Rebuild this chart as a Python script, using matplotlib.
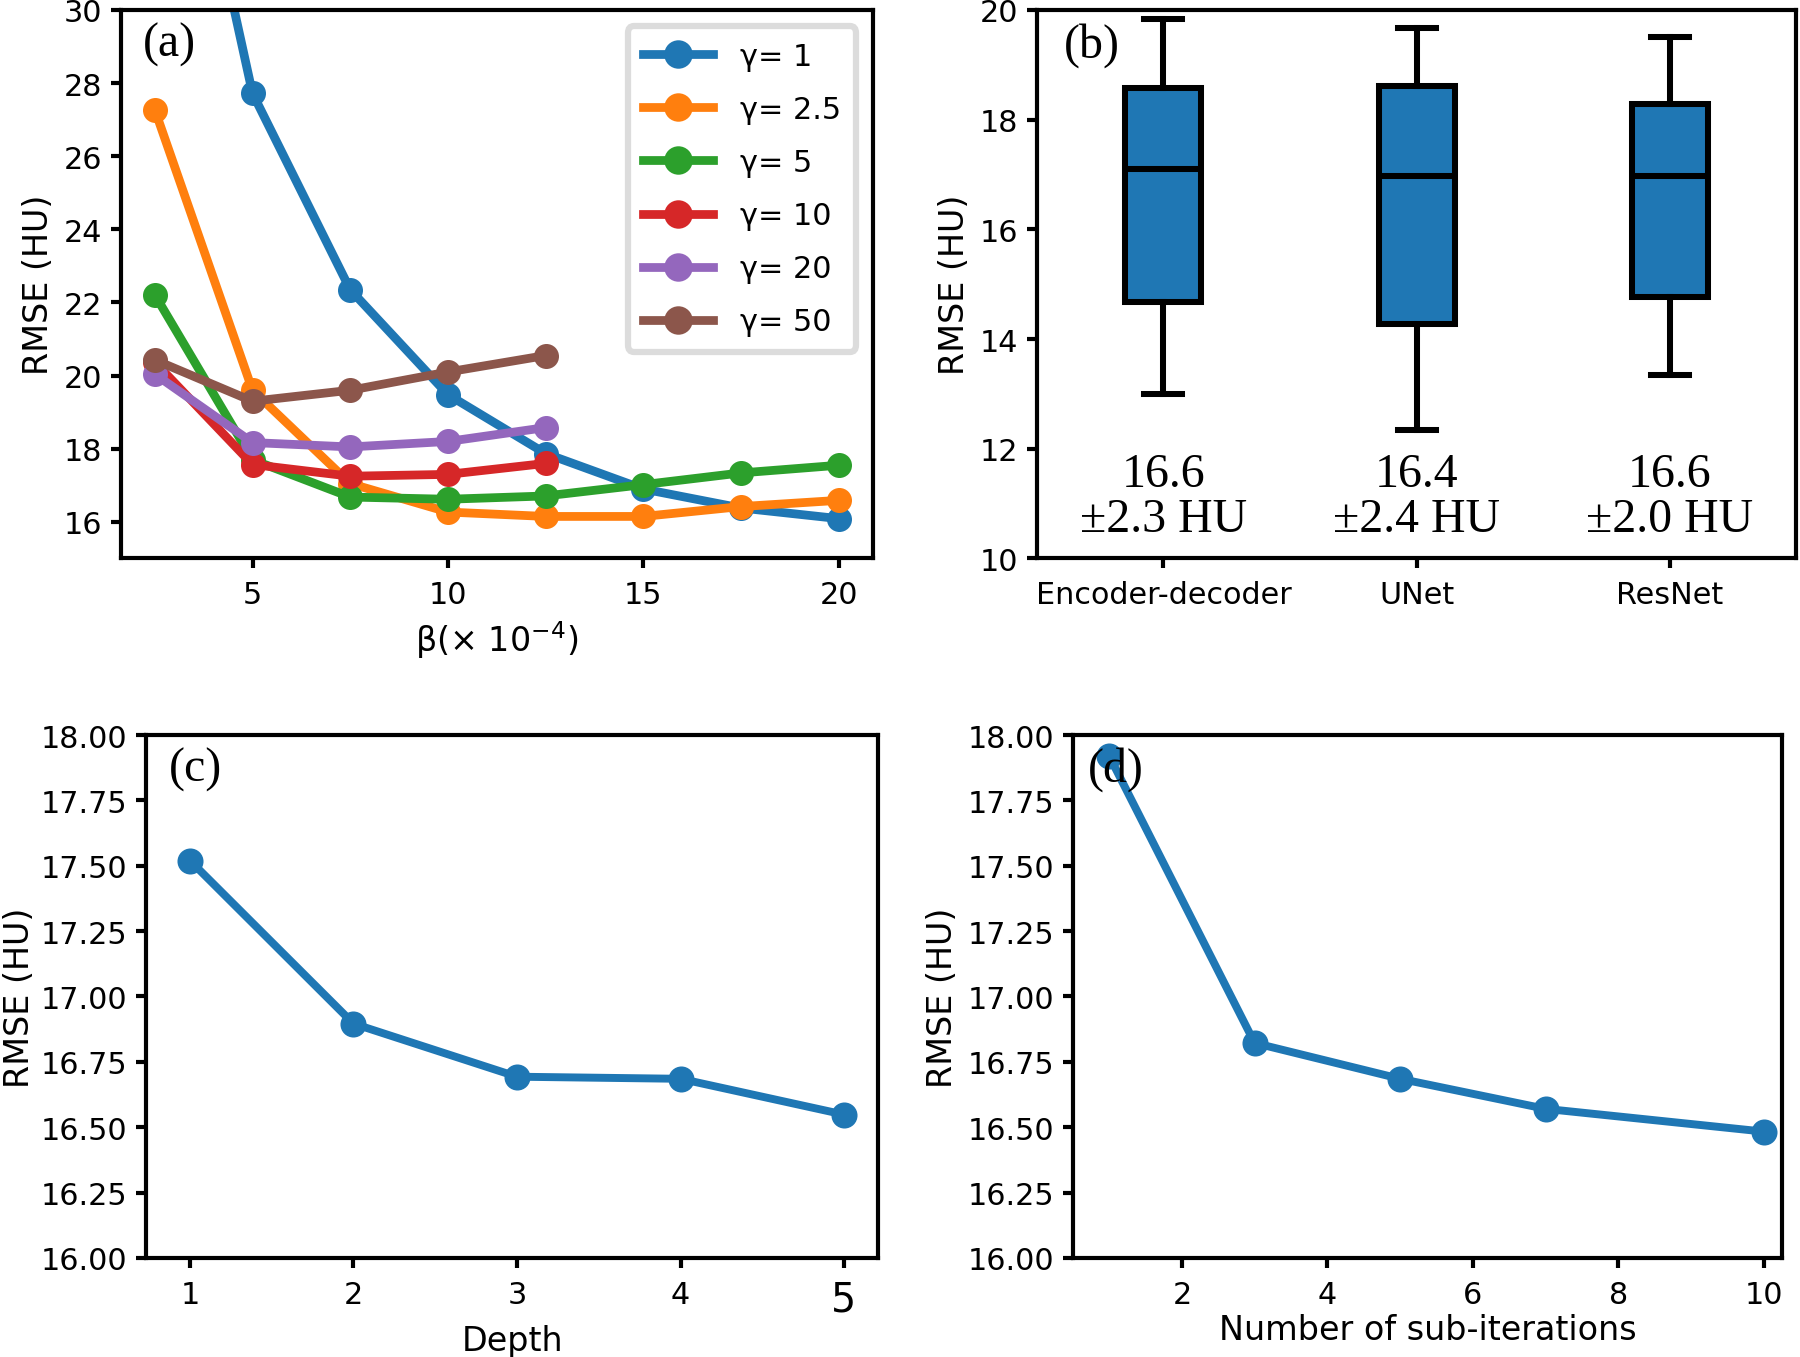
import numpy as np
import matplotlib
matplotlib.use('Agg')
import matplotlib.pyplot as plt

plt.rcParams.update({
    'font.family': 'DejaVu Sans',
    'font.size': 14.5,
    'axes.linewidth': 2.0,
    'axes.labelsize': 16,
    'axes.labelpad': 4,
    'xtick.labelsize': 14.5,
    'ytick.labelsize': 14.5,
    'xtick.major.width': 2.0,
    'ytick.major.width': 2.0,
    'xtick.major.size': 5,
    'ytick.major.size': 5,
    'xtick.major.pad': 5.5,
    'ytick.major.pad': 4,
})

# --- data ---
beta = [2.5, 5, 7.5, 10, 12.5, 15, 17.5, 20]
gamma_labels = ['γ= 1', 'γ= 2.5', 'γ= 5', 'γ= 10', 'γ= 20', 'γ= 50']
rmse_g1 = [39.9, 27.72, 22.35, 19.48, 17.87, 16.9, 16.38, 16.09]
rmse_g2_5 = [27.27, 19.6, 17.05, 16.27, 16.15, 16.15, 16.42, 16.59]
rmse_g5 = [22.21, 17.7, 16.68, 16.62, 16.71, 17.02, 17.34, 17.55]
rmse_g10 = [20.37, 17.57, 17.25, 17.3, 17.6]
rmse_g20 = [20.04, 18.17, 18.05, 18.2, 18.58]
rmse_g50 = [20.43, 19.3, 19.6, 20.1, 20.55]

models = ['Encoder-decoder', 'UNet', 'ResNet']
whis_lo = [13.0, 12.35, 13.35]
q1 = [14.68, 14.27, 14.76]
med = [17.1, 16.98, 16.98]
q3 = [18.58, 18.62, 18.28]
whis_hi = [19.83, 19.67, 19.51]
mean_txt = ['16.6', '16.4', '16.6']
std_txt = ['±2.3 HU', '±2.4 HU', '±2.0 HU']

depth = [1, 2, 3, 4, 5]
rmse_depth = [17.52, 16.896, 16.693, 16.685, 16.548]

subiter = [1, 3, 5, 7, 10]
rmse_subiter = [17.92, 16.822, 16.685, 16.57, 16.483]

BLUE = '#1f77b4'
SERIF = 'Liberation Serif'
MS = 11.5

fig = plt.figure(figsize=(12, 9.0533), dpi=150)

# --- (a) beta / gamma sweep ---
ax = fig.add_axes([0.067, 0.588, 0.418, 0.404])
series = [rmse_g1, rmse_g2_5, rmse_g5, rmse_g10, rmse_g20, rmse_g50]
for lab, ys in zip(gamma_labels, series):
    ax.plot(beta[:len(ys)], ys, marker='o', linewidth=4.2, markersize=11, label=lab)
ax.set_xlim(1.625, 20.875)
ax.set_ylim(15, 30)
ax.set_yticks(range(16, 31, 2))
ax.set_xticks([5, 10, 15, 20])
ax.set_xlabel('β(× 10$^{-4}$)')
ax.set_ylabel('RMSE (HU)')
leg = ax.legend(loc='upper right', handlelength=2.3, labelspacing=0.8,
                borderpad=0.5, borderaxespad=0.55, fontsize=14.5,
                markerscale=1.15, handletextpad=0.9)
leg.get_frame().set_linewidth(3)
leg.get_frame().set_edgecolor('#d4d4d4')
ax.text(0.03, 0.978, '(a)', transform=ax.transAxes, ha='left', va='top',
        family=SERIF, fontsize=23)

# --- (b) model comparison ---
ax = fig.add_axes([0.576, 0.588, 0.422, 0.404])
stats = []
for i, m in enumerate(models):
    stats.append({'label': m, 'whislo': whis_lo[i], 'q1': q1[i], 'med': med[i],
                  'q3': q3[i], 'whishi': whis_hi[i], 'fliers': []})
ax.bxp(stats, positions=[1, 2, 3], widths=0.3, patch_artist=True,
       boxprops=dict(facecolor=BLUE, edgecolor='black', linewidth=2.9),
       medianprops=dict(color='black', linewidth=2.9),
       whiskerprops=dict(color='black', linewidth=2.9),
       capprops=dict(color='black', linewidth=2.9))
for i in range(len(models)):
    ax.text(i + 1, 11.13, mean_txt[i] + '\n' + std_txt[i], ha='center', va='center',
            family=SERIF, fontsize=23, linespacing=1.05)
ax.set_xlim(0.5, 3.5)
ax.set_ylim(10, 20)
ax.set_yticks(range(10, 21, 2))
ax.set_ylabel('RMSE (HU)')
ax.text(0.036, 0.978, '(b)', transform=ax.transAxes, ha='left', va='top',
        family=SERIF, fontsize=23)

# --- (c) depth ---
ax = fig.add_axes([0.081, 0.073, 0.407, 0.385])
ax.plot(depth, rmse_depth, marker='o', color=BLUE, linewidth=3.8, markersize=MS)
ax.set_xlim(0.73, 5.21)
ax.set_ylim(16, 18)
ax.set_yticks(np.arange(16, 18.01, 0.25))
ax.set_xticks(depth)
ax.set_xlabel('Depth', labelpad=2)
ax.set_ylabel('RMSE (HU)', labelpad=2)
ax.get_xticklabels()[-1].set_fontsize(19)
ax.text(0.031, 0.978, '(c)', transform=ax.transAxes, ha='left', va='top',
        family=SERIF, fontsize=23)

# --- (d) sub-iterations ---
ax = fig.add_axes([0.596, 0.073, 0.394, 0.385])
ax.plot(subiter, rmse_subiter, marker='o', color=BLUE, linewidth=3.8, markersize=MS)
ax.set_xlim(0.5, 10.25)
ax.set_ylim(16, 18)
ax.set_yticks(np.arange(16, 18.01, 0.25))
ax.set_xticks([2, 4, 6, 8, 10])
ax.set_xlabel('Number of sub-iterations', labelpad=2)
ax.set_ylabel('RMSE (HU)')
ax.text(0.021, 0.978, '(d)', transform=ax.transAxes, ha='left', va='top',
        family=SERIF, fontsize=23)

fig.savefig('out.png', dpi=150)
